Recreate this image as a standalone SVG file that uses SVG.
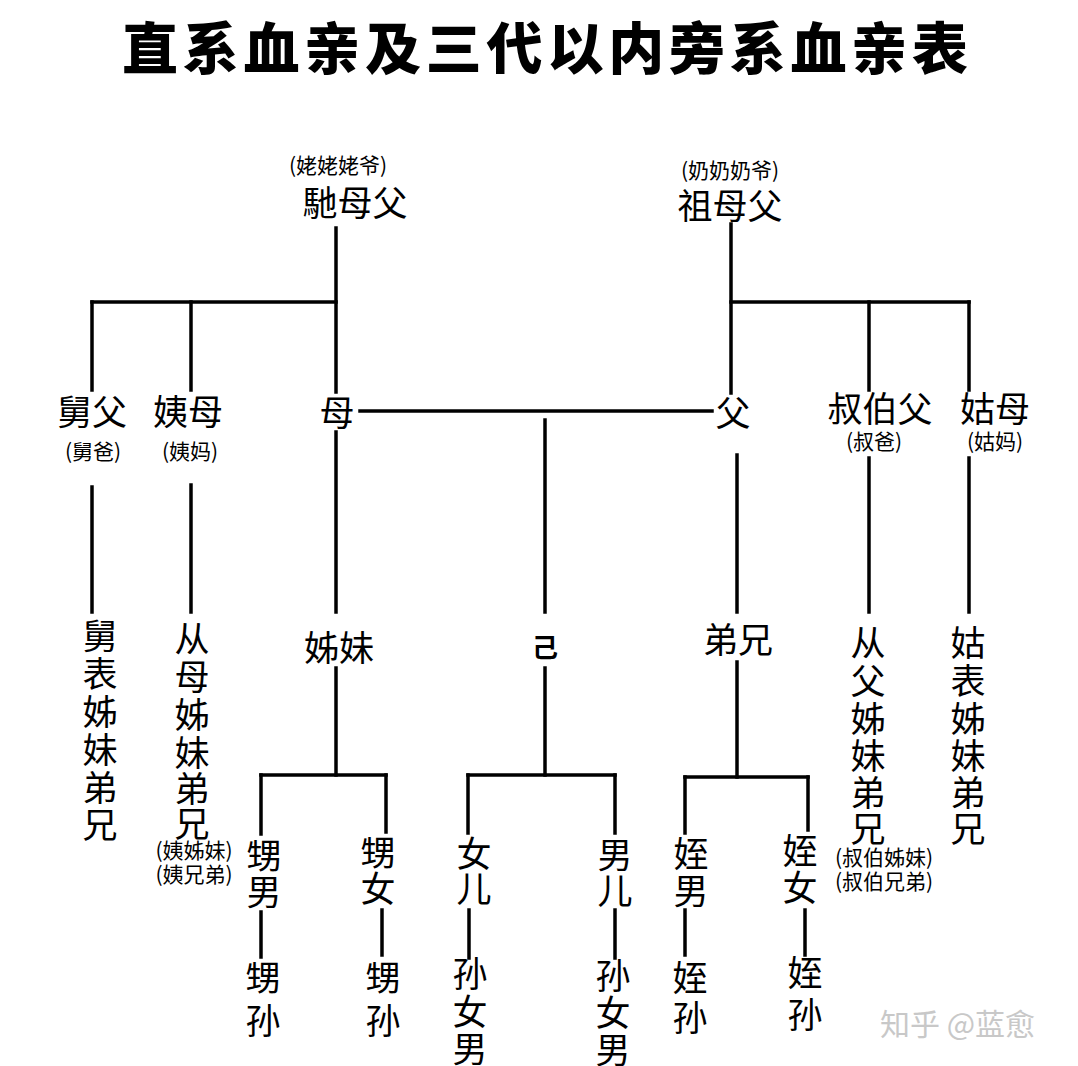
<svg xmlns="http://www.w3.org/2000/svg" width="1078" height="1066" viewBox="0 0 1078 1066">
<style>
text{font-family:"Noto Sans CJK SC","Noto Sans CJK TC",sans-serif;fill:#000;text-anchor:middle;dominant-baseline:central}
.t{font-size:56px;font-weight:900}
.m{font-size:35px}
.s{font-size:21px}
.wm{font-size:30px;fill:#c8c8c8;text-anchor:start}
#connectors line{stroke:#000;stroke-width:3.5;stroke-linecap:square}
</style>
<rect width="1078" height="1066" fill="#fff"/>
<text class="t" x="545" y="44" textLength="846" lengthAdjust="spacing">直系血亲及三代以内旁系血亲表</text>
<g id="connectors">
<line x1="336" y1="228" x2="336" y2="392"/>
<line x1="731" y1="224" x2="731" y2="393"/>
<line x1="92" y1="302" x2="336" y2="302"/>
<line x1="731" y1="302" x2="969" y2="302"/>
<line x1="92" y1="302" x2="92" y2="390"/>
<line x1="191" y1="302" x2="191" y2="390"/>
<line x1="869" y1="302" x2="869" y2="390"/>
<line x1="969" y1="302" x2="969" y2="390"/>
<line x1="360" y1="411" x2="712" y2="411"/>
<line x1="545" y1="420" x2="545" y2="612"/>
<line x1="92" y1="487" x2="92" y2="612"/>
<line x1="191" y1="485" x2="191" y2="612"/>
<line x1="336" y1="432" x2="336" y2="612"/>
<line x1="737" y1="455" x2="737" y2="612"/>
<line x1="869" y1="458" x2="869" y2="612"/>
<line x1="969" y1="458" x2="969" y2="612"/>
<line x1="336" y1="668" x2="336" y2="775"/>
<line x1="261" y1="775" x2="386" y2="775"/>
<line x1="261" y1="775" x2="261" y2="834"/>
<line x1="386" y1="775" x2="386" y2="832"/>
<line x1="545" y1="668" x2="545" y2="775"/>
<line x1="468" y1="775" x2="615" y2="775"/>
<line x1="468" y1="775" x2="468" y2="833"/>
<line x1="615" y1="775" x2="615" y2="833"/>
<line x1="737" y1="662" x2="737" y2="777"/>
<line x1="685" y1="777" x2="808" y2="777"/>
<line x1="685" y1="777" x2="685" y2="833"/>
<line x1="808" y1="777" x2="808" y2="830"/>
<line x1="261" y1="912" x2="261" y2="957"/>
<line x1="382" y1="910" x2="382" y2="955"/>
<line x1="469" y1="910" x2="469" y2="958"/>
<line x1="615" y1="910" x2="615" y2="958"/>
<line x1="685" y1="910" x2="685" y2="955"/>
<line x1="805" y1="910" x2="805" y2="955"/>
</g>
<g id="maternal-grandparents"><text class="s" x="338" y="164">(姥姥姥爷)</text><text class="m" x="355" y="200">馳母父</text></g>
<g id="paternal-grandparents"><text class="s" x="730" y="169">(奶奶奶爷)</text><text class="m" x="730" y="203">祖母父</text></g>
<g id="jiufu"><text class="m" x="92" y="409">舅父</text><text class="s" x="93" y="450">(舅爸)</text></g>
<g id="yimu"><text class="m" x="188" y="409">姨母</text><text class="s" x="190" y="450">(姨妈)</text></g>
<g id="mu"><text class="m" x="337" y="410">母</text></g>
<g id="fu"><text class="m" x="733" y="410">父</text></g>
<g id="shubofu"><text class="m" x="880" y="406">叔伯父</text><text class="s" x="874" y="440">(叔爸)</text></g>
<g id="gumu"><text class="m" x="995" y="406">姑母</text><text class="s" x="995" y="440">(姑妈)</text></g>
<g id="jiubiao"><text class="m"><tspan x="100" y="633">舅</tspan><tspan x="100" y="671">表</tspan><tspan x="100" y="709">姊</tspan><tspan x="100" y="747">妹</tspan><tspan x="100" y="785">弟</tspan><tspan x="100" y="822">兄</tspan></text></g>
<g id="congmu"><text class="m"><tspan x="192" y="636">从</tspan><tspan x="192" y="674">母</tspan><tspan x="192" y="712">姊</tspan><tspan x="192" y="750">妹</tspan><tspan x="192" y="786">弟</tspan><tspan x="192" y="821">兄</tspan></text><text class="s" x="194" y="849">(姨姊妹)</text><text class="s" x="194" y="873">(姨兄弟)</text></g>
<g id="zimei"><text class="m" x="339" y="645">姊妹</text></g>
<g id="ji"><text x="545" y="645" style="font-size:26px;font-weight:bold">己</text></g>
<g id="dixiong"><text class="m" x="738" y="637">弟兄</text></g>
<g id="congfu"><text class="m"><tspan x="868" y="640">从</tspan><tspan x="868" y="678">父</tspan><tspan x="868" y="716">姊</tspan><tspan x="868" y="753">妹</tspan><tspan x="868" y="790">弟</tspan><tspan x="868" y="826">兄</tspan></text><text class="s" x="884" y="856">(叔伯姊妹)</text><text class="s" x="884" y="880">(叔伯兄弟)</text></g>
<g id="gubiao"><text class="m"><tspan x="968" y="640">姑</tspan><tspan x="968" y="678">表</tspan><tspan x="968" y="716">姊</tspan><tspan x="968" y="753">妹</tspan><tspan x="968" y="790">弟</tspan><tspan x="968" y="826">兄</tspan></text></g>
<g id="shengnan"><text class="m"><tspan x="264" y="853">甥</tspan><tspan x="264" y="889">男</tspan></text></g>
<g id="shengnv"><text class="m"><tspan x="378" y="850">甥</tspan><tspan x="378" y="886">女</tspan></text></g>
<g id="nver"><text class="m"><tspan x="474" y="851">女</tspan><tspan x="474" y="886">儿</tspan></text></g>
<g id="naner"><text class="m"><tspan x="615" y="852">男</tspan><tspan x="615" y="888">儿</tspan></text></g>
<g id="zhinan"><text class="m"><tspan x="691" y="851">姪</tspan><tspan x="691" y="888">男</tspan></text></g>
<g id="zhinv"><text class="m"><tspan x="800" y="848">姪</tspan><tspan x="800" y="885">女</tspan></text></g>
<g id="shengsun1"><text class="m"><tspan x="263" y="975">甥</tspan><tspan x="263" y="1018">孙</tspan></text></g>
<g id="shengsun2"><text class="m"><tspan x="383" y="975">甥</tspan><tspan x="383" y="1018">孙</tspan></text></g>
<g id="sun1"><text class="m"><tspan x="470" y="971">孙</tspan><tspan x="470" y="1009">女</tspan><tspan x="470" y="1046">男</tspan></text></g>
<g id="sun2"><text class="m"><tspan x="613" y="973">孙</tspan><tspan x="613" y="1010">女</tspan><tspan x="613" y="1047">男</tspan></text></g>
<g id="zhisun1"><text class="m"><tspan x="690" y="975">姪</tspan><tspan x="690" y="1015">孙</tspan></text></g>
<g id="zhisun2"><text class="m"><tspan x="805" y="970">姪</tspan><tspan x="805" y="1012">孙</tspan></text></g>
<text class="wm" x="880" y="1022">知乎 @蓝愈</text>
</svg>
